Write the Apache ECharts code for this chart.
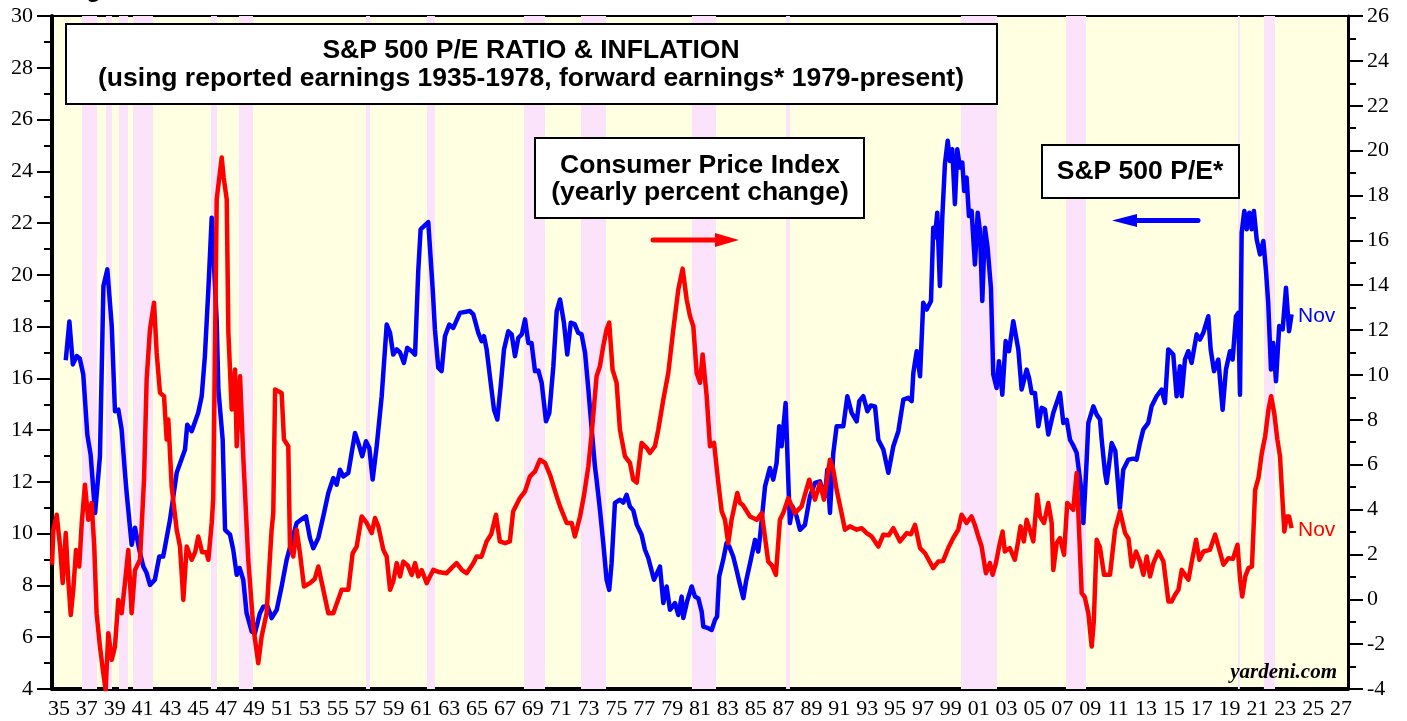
<!DOCTYPE html>
<html>
<head>
<meta charset="utf-8">
<title>S&amp;P 500 P/E Ratio &amp; Inflation</title>
<script src="https://cdn.jsdelivr.net/npm/echarts@6/dist/echarts.min.js"></script>
<style>
    html, body { margin: 0; padding: 0; background: #fff; }
    #chart { width: 1407px; height: 721px; }
</style>
</head>
<body>
<div id="chart"></div>
<script>
    // S&P 500 P/E (left axis), [year, value]
    const peData = [
        [1935.99,16.7],[1936.25,18.2],[1936.5,16.54],[1936.78,16.86],[1937.0,16.77],[1937.25,16.15],
        [1937.54,13.83],[1937.78,13.05],[1938.1,10.8],[1938.45,12.99],[1938.7,19.57],[1938.98,20.21],
        [1939.3,18.02],[1939.53,14.73],[1939.77,14.79],[1940.01,14.02],[1940.25,12.35],[1940.37,11.58],
        [1940.73,9.57],[1940.97,10.23],[1941.33,9.26],[1941.57,8.73],[1941.81,8.48],[1942.05,8.02],
        [1942.4,8.22],[1942.72,9.12],[1943.0,9.12],[1943.49,10.54],[1943.97,12.35],[1944.57,13.25],
        [1944.73,14.21],[1945.05,13.96],[1945.52,14.67],[1945.77,15.31],[1946.0,16.86],[1946.25,19.44],
        [1946.49,22.21],[1946.85,18.2],[1946.97,15.57],[1947.28,13.63],[1947.45,10.15],[1947.81,9.96],
        [1948.04,9.38],[1948.29,8.41],[1948.5,8.67],[1948.76,8.22],[1949.0,6.93],[1949.37,6.22],
        [1949.6,6.15],[1949.96,6.93],[1950.2,7.18],[1950.5,7.2],[1950.68,6.94],[1950.8,6.74],
        [1951.17,7.06],[1951.52,7.96],[1951.88,8.99],[1952.24,9.7],[1952.6,10.41],[1952.96,10.56],
        [1953.27,10.67],[1953.56,9.83],[1953.8,9.44],[1954.16,9.83],[1954.52,10.67],[1954.88,11.57],
        [1955.24,12.15],[1955.48,11.89],[1955.72,12.47],[1955.96,12.21],[1956.32,12.35],[1956.56,13.12],
        [1956.8,13.89],[1957.04,13.5],[1957.32,12.99],[1957.59,13.57],[1957.83,13.31],[1958.07,12.09],
        [1958.36,13.38],[1958.72,15.31],[1959.08,18.08],[1959.32,17.76],[1959.55,16.92],[1959.8,17.12],
        [1960.04,17.0],[1960.32,16.6],[1960.56,17.18],[1960.88,17.05],[1961.12,16.92],[1961.35,20.15],
        [1961.52,21.76],[1962.07,22.04],[1962.39,19.44],[1962.55,17.89],[1962.79,16.41],[1963.03,16.28],
        [1963.27,17.63],[1963.58,18.08],[1963.87,17.95],[1964.35,18.53],[1965.07,18.6],[1965.31,18.47],
        [1965.67,17.76],[1965.91,17.44],[1966.08,17.63],[1966.27,17.12],[1966.56,15.83],[1966.8,14.79],
        [1967.04,14.41],[1967.28,15.7],[1967.52,17.12],[1967.83,17.82],[1968.07,17.7],[1968.31,16.86],
        [1968.55,17.57],[1968.8,17.7],[1969.03,18.28],[1969.27,17.37],[1969.5,17.37],[1969.75,16.28],
        [1969.99,16.3],[1970.23,15.83],[1970.54,14.34],[1970.78,14.67],[1971.07,16.47],[1971.31,18.6],
        [1971.55,19.05],[1971.83,18.15],[1972.07,16.92],[1972.32,18.15],[1972.6,18.1],[1972.86,17.76],
        [1973.1,17.7],[1973.35,16.99],[1973.59,15.57],[1973.83,14.02],[1974.06,12.6],[1974.18,12.09],
        [1974.42,10.93],[1974.66,9.64],[1974.9,8.22],[1975.09,7.83],[1975.26,8.86],[1975.5,11.19],
        [1975.86,11.31],[1976.1,11.2],[1976.34,11.5],[1976.58,11.05],[1976.82,10.9],[1977.07,10.35],
        [1977.42,9.96],[1977.66,9.38],[1977.9,9.06],[1978.31,8.22],[1978.74,8.73],[1978.98,7.32],
        [1979.22,7.96],[1979.46,7.06],[1979.82,7.32],[1980.06,6.86],[1980.3,7.57],[1980.42,6.74],
        [1980.7,7.4],[1981.02,7.96],[1981.26,7.57],[1981.5,7.5],[1981.74,6.99],[1981.86,6.41],
        [1982.21,6.35],[1982.46,6.28],[1982.7,6.67],[1982.85,6.8],[1983.0,8.35],[1983.29,8.99],
        [1983.53,9.64],[1983.72,9.51],[1984.01,9.12],[1984.25,8.6],[1984.5,8.02],[1984.74,7.51],
        [1984.93,8.15],[1985.22,8.86],[1985.58,9.76],[1985.81,9.31],[1985.94,9.89],[1986.3,11.83],
        [1986.65,12.54],[1986.89,12.09],[1987.13,12.73],[1987.32,14.15],[1987.49,13.38],[1987.78,15.05],
        [1987.97,12.09],[1988.09,10.41],[1988.28,11.05],[1988.57,10.67],[1988.81,10.15],[1989.17,10.34],
        [1989.53,11.44],[1989.89,11.96],[1990.25,12.02],[1990.61,11.44],[1990.78,12.47],[1990.97,10.8],
        [1991.21,13.12],[1991.45,14.15],[1991.93,14.15],[1992.22,15.31],[1992.53,14.67],[1992.89,14.34],
        [1993.08,15.12],[1993.37,15.31],[1993.66,14.73],[1993.9,14.95],[1994.21,14.92],[1994.45,13.63],
        [1994.81,13.25],[1995.17,12.35],[1995.53,13.38],[1995.89,13.96],[1996.25,15.18],[1996.6,15.25],
        [1996.85,15.12],[1996.97,16.21],[1997.21,17.05],[1997.45,16.08],[1997.68,18.92],[1997.93,18.66],
        [1998.24,18.99],[1998.4,21.82],[1998.52,21.44],[1998.69,22.4],[1998.88,19.57],[1999.05,22.21],
        [1999.24,24.27],[1999.44,25.18],[1999.6,24.4],[1999.77,24.85],[1999.96,22.73],[2000.13,24.85],
        [2000.32,24.15],[2000.49,24.34],[2000.63,23.24],[2000.8,23.76],[2000.97,22.27],[2001.16,22.47],
        [2001.4,20.4],[2001.6,22.4],[2001.76,21.69],[2001.93,18.99],[2002.12,21.82],[2002.31,21.05],
        [2002.55,19.5],[2002.72,16.15],[2002.96,15.63],[2003.13,16.66],[2003.37,15.37],[2003.61,17.44],
        [2003.85,17.05],[2004.16,18.21],[2004.28,18.28],[2004.52,17.12],[2004.76,15.57],[2005.12,16.34],
        [2005.3,16.0],[2005.48,15.44],[2005.72,15.44],[2005.96,14.15],[2006.2,14.86],[2006.44,14.8],
        [2006.68,13.83],[2007.04,14.67],[2007.52,15.44],[2007.76,14.28],[2008.0,14.4],[2008.24,13.63],
        [2008.48,13.4],[2008.72,13.12],[2008.96,12.09],[2009.08,11.57],[2009.2,10.41],[2009.32,11.6],
        [2009.44,12.86],[2009.56,14.28],[2009.92,14.92],[2010.16,14.6],[2010.4,14.41],[2010.52,13.63],
        [2010.76,12.35],[2010.88,11.96],[2011.24,13.5],[2011.5,13.2],[2011.83,11.0],[2012.07,12.47],
        [2012.43,12.86],[2012.8,12.9],[2013.03,12.86],[2013.27,13.5],[2013.51,14.02],[2013.87,14.28],
        [2014.11,14.92],[2014.47,15.31],[2014.83,15.57],[2015.07,15.05],[2015.31,17.12],[2015.67,16.92],
        [2015.91,15.31],[2016.15,16.47],[2016.27,15.31],[2016.51,16.73],[2016.75,17.05],[2016.99,16.6],
        [2017.35,17.7],[2017.59,17.5],[2017.83,17.76],[2018.19,18.4],[2018.36,17.12],[2018.6,16.28],
        [2018.91,16.73],[2019.22,14.79],[2019.46,16.34],[2019.75,17.05],[2019.94,16.73],[2020.18,18.4],
        [2020.35,18.53],[2020.47,15.37],[2020.59,21.63],[2020.78,22.47],[2020.95,21.76],[2021.14,22.4],
        [2021.31,21.76],[2021.47,22.47],[2021.67,21.37],[2021.91,20.79],[2022.15,21.31],[2022.34,20.15],
        [2022.5,18.92],[2022.7,16.34],[2022.86,17.37],[2023.06,15.89],[2023.29,18.02],[2023.54,17.89],
        [2023.78,19.5],[2024.0,17.82],[2024.18,18.47]
    ]

    // CPI yearly % change (right axis), [year, value]
    const cpiData = [
        [1935.0,1.54],[1935.1,3.1],[1935.34,3.77],[1935.58,2.35],[1935.77,0.72],[1935.99,2.95],
        [1936.17,0.87],[1936.35,-0.7],[1936.53,0.42],[1936.73,2.2],[1936.96,1.46],[1937.14,3.4],
        [1937.37,5.11],[1937.61,3.54],[1937.85,4.29],[1938.04,2.35],[1938.21,-0.62],[1938.45,-2.11],
        [1938.69,-3.3],[1938.86,-4.05],[1939.05,-1.51],[1939.3,-2.7],[1939.53,-2.11],[1939.77,-0.03],
        [1940.01,-0.62],[1940.25,0.72],[1940.49,2.2],[1940.73,-0.62],[1940.97,1.31],[1941.33,1.76],
        [1941.62,5.33],[1941.81,9.8],[1942.05,12.03],[1942.34,13.22],[1942.53,10.99],[1942.77,9.2],
        [1943.06,9.05],[1943.25,7.12],[1943.37,8.01],[1943.61,5.03],[1943.97,3.1],[1944.21,2.35],
        [1944.45,-0.03],[1944.69,2.35],[1944.9,2.0],[1945.05,1.76],[1945.3,2.1],[1945.52,2.8],
        [1945.8,2.1],[1946.1,2.1],[1946.25,1.76],[1946.49,3.4],[1946.6,4.5],[1946.85,17.83],
        [1947.21,19.69],[1947.35,18.8],[1947.57,17.83],[1947.69,11.88],[1947.93,8.46],[1948.17,10.24],
        [1948.29,6.82],[1948.53,9.94],[1948.76,6.37],[1949.12,1.76],[1949.48,-1.22],[1949.84,-2.85],
        [1950.08,-1.66],[1950.44,-0.62],[1950.8,3.1],[1950.92,3.84],[1951.05,9.35],[1951.52,9.2],
        [1951.69,7.12],[1952.0,6.82],[1952.12,2.35],[1952.36,1.91],[1952.6,3.1],[1952.84,2.05],
        [1953.13,0.57],[1953.56,0.72],[1953.9,0.9],[1954.16,1.46],[1954.52,0.42],[1954.88,-0.62],
        [1955.24,-0.62],[1955.84,0.42],[1956.32,0.42],[1956.63,2.05],[1956.92,2.35],[1957.28,3.69],
        [1957.64,3.4],[1958.0,2.95],[1958.24,3.62],[1958.48,3.25],[1958.84,2.2],[1959.08,1.91],
        [1959.32,0.42],[1959.55,0.79],[1959.8,1.61],[1960.04,1.02],[1960.28,1.68],[1960.6,1.5],
        [1960.88,1.09],[1961.12,1.61],[1961.35,1.02],[1961.6,1.3],[1961.96,0.72],[1962.43,1.31],
        [1962.9,1.2],[1963.39,1.16],[1963.75,1.4],[1964.11,1.61],[1964.5,1.3],[1964.83,1.16],
        [1965.31,1.61],[1965.55,1.91],[1965.9,1.9],[1966.27,2.58],[1966.6,2.9],[1966.94,3.77],
        [1967.22,2.58],[1967.6,2.5],[1967.94,2.58],[1968.18,3.92],[1968.66,4.51],[1969.03,4.81],
        [1969.39,5.48],[1969.75,5.7],[1970.11,6.22],[1970.47,6.08],[1970.83,5.55],[1971.31,4.59],
        [1971.55,4.14],[1972.03,3.4],[1972.39,3.4],[1972.62,2.8],[1972.99,3.69],[1973.28,4.66],
        [1973.59,5.93],[1973.83,7.41],[1974.18,9.94],[1974.42,10.39],[1974.66,11.28],[1974.9,12.03],
        [1975.09,12.33],[1975.33,10.24],[1975.62,9.65],[1975.86,7.56],[1976.22,6.37],[1976.58,6.08],
        [1976.82,5.33],[1977.07,5.2],[1977.42,6.97],[1977.78,6.75],[1978.02,6.52],[1978.38,6.82],
        [1978.62,7.56],[1978.98,8.9],[1979.34,10.09],[1979.7,12.03],[1980.06,13.81],[1980.37,14.74],
        [1980.66,13.37],[1980.9,12.62],[1981.14,12.17],[1981.38,10.09],[1981.62,9.65],[1981.81,10.91],
        [1982.1,9.05],[1982.34,6.82],[1982.63,6.97],[1982.94,5.18],[1983.18,3.92],[1983.42,3.54],
        [1983.65,2.5],[1983.89,3.54],[1984.3,4.74],[1984.5,4.29],[1984.7,4.2],[1985.22,3.69],
        [1985.7,3.54],[1986.06,3.84],[1986.17,3.84],[1986.53,1.68],[1986.8,1.5],[1987.08,1.09],
        [1987.37,3.54],[1987.61,3.84],[1987.97,4.51],[1988.45,3.84],[1988.93,4.14],[1989.48,5.33],
        [1989.89,4.44],[1990.25,5.18],[1990.54,4.44],[1990.97,6.22],[1991.2,5.8],[1991.45,4.88],
        [1991.75,4.0],[1992.05,3.1],[1992.41,3.25],[1992.9,3.1],
        [1993.25,3.17],[1993.61,2.95],[1993.97,2.8],[1994.45,2.35],[1994.81,2.88],[1995.2,2.85],
        [1995.53,3.17],[1996.01,2.58],[1996.49,2.95],[1996.8,2.9],[1997.09,3.32],[1997.45,2.28],
        [1997.81,2.05],[1998.4,1.39],[1998.76,1.68],[1999.1,1.7],[1999.48,2.28],[1999.84,2.73],
        [2000.2,3.1],[2000.44,3.77],[2000.8,3.4],[2001.16,3.69],[2001.4,3.3],[2001.64,2.8],
        [2001.88,2.35],[2002.19,1.16],[2002.48,1.61],[2002.67,1.09],[2002.91,1.61],[2003.19,2.5],
        [2003.39,3.02],[2003.55,2.13],[2003.91,2.28],[2004.27,1.76],[2004.51,2.58],[2004.68,3.25],
        [2004.92,2.58],[2005.12,3.54],[2005.35,3.1],[2005.6,2.58],[2005.88,4.66],[2006.08,3.69],
        [2006.37,3.4],[2006.68,4.29],[2006.92,3.4],[2007.04,1.31],[2007.28,2.5],[2007.52,2.73],
        [2007.81,1.98],[2008.04,4.29],[2008.47,3.99],[2008.72,5.63],[2009.08,0.27],[2009.3,0.1],
        [2009.56,-0.62],[2009.8,-2.11],[2009.95,-1.0],[2010.16,2.65],[2010.4,2.3],[2010.69,1.09],
        [2011.12,1.09],[2011.48,3.1],[2011.84,3.92],[2012.2,2.95],[2012.45,2.7],[2012.68,1.46],
        [2012.99,2.13],[2013.28,1.68],[2013.52,1.09],[2013.76,1.91],[2014.0,1.02],[2014.24,1.61],
        [2014.6,2.13],[2014.96,1.68],[2015.32,-0.1],[2015.55,-0.1],[2015.8,0.2],[2016.04,0.42],
        [2016.28,1.31],[2016.5,1.1],[2016.76,0.87],[2017.0,1.68],[2017.31,2.65],[2017.55,1.76],
        [2017.84,2.13],[2018.3,2.2],[2018.68,2.88],[2018.92,2.35],[2019.28,1.54],[2019.64,1.83],
        [2019.96,1.8],[2020.29,2.43],[2020.48,0.87],[2020.63,0.12],[2020.85,1.02],[2021.08,1.39],
        [2021.33,1.46],[2021.56,4.88],[2021.8,5.41],[2022.04,6.52],[2022.28,7.26],[2022.52,8.46],
        [2022.71,9.05],[2022.93,8.31],[2023.16,7.12],[2023.35,6.37],[2023.47,5.03],[2023.66,3.02],
        [2023.83,3.69],[2024.0,3.69],[2024.18,3.17]
    ]

    // shaded periods, [start, end]
    const shadedPeriods = [
        [1937.16,1938.24],[1938.88,1939.32],[1939.82,1940.47],[1940.83,1942.27],[1946.44,1946.87],
        [1948.45,1949.46],[1957.59,1957.88],[1961.98,1962.55],[1968.96,1970.47],[1973.06,1974.86],
        [1981.04,1982.77],[1987.81,1988.09],[2000.4,2002.99],[2007.95,2009.39],[2020.32,2020.46],
        [2022.19,2022.99]
    ]

    const yearLabels = [
        '35','36','37','38','39','40','41','42','43','44','45','46','47','48','49',
        '50','51','52','53','54','55','56','57','58','59','60','61','62','63','64',
        '65','66','67','68','69','70','71','72','73','74','75','76','77','78','79',
        '80','81','82','83','84','85','86','87','88','89','90','91','92','93','94',
        '95','96','97','98','99','00','01','02','03','04','05','06','07','08','09',
        '10','11','12','13','14','15','16','17','18','19','20','21','22','23','24',
        '25','26','27'
    ]

    const SANS = 'Liberation Sans'
    const SERIF = 'Liberation Serif'
    const BOX_FONT = 'bold 26.5px ' + SANS
    const tickLabel = { color: '#000', fontFamily: SERIF, fontSize: 22 }

    const chart = echarts.init(document.getElementById('chart'))
    chart.setOption({
        animation: false,
        grid: {
            left: 52, right: 59, top: 16, bottom: 32,
            show: true, backgroundColor: '#FFFFE1', borderColor: '#000', borderWidth: 2
        },
        xAxis: [
            {
                type: 'category',
                data: yearLabels,
                position: 'bottom',
                boundaryGap: true,
                axisLine: { onZero: false, lineStyle: { color: '#000', width: 4 } },
                axisTick: { interval: 0, length: 7, lineStyle: { color: '#000', width: 2 } },
                axisLabel: Object.assign({ interval: 1, margin: 9 }, tickLabel),
                splitLine: { show: false }
            },
            {
                // hidden value axis that places the data
                type: 'value', min: 1935, max: 2028.24, show: false
            }
        ],
        yAxis: [
            {
                type: 'value', position: 'left', min: 4, max: 30, interval: 2,
                axisLine: { show: true, lineStyle: { color: '#000', width: 4 } },
                axisTick: { show: true, length: 15, lineStyle: { color: '#000', width: 2 } },
                minorTick: { show: true, splitNumber: 2, length: 8, lineStyle: { color: '#000', width: 2 } },
                axisLabel: Object.assign({ margin: 19 }, tickLabel),
                splitLine: { show: false }
            },
            {
                type: 'value', position: 'right', min: -4, max: 26, interval: 2,
                axisLine: { show: true, lineStyle: { color: '#000', width: 3 } },
                axisTick: { show: true, length: 15, lineStyle: { color: '#000', width: 2 } },
                minorTick: { show: true, splitNumber: 2, length: 8, lineStyle: { color: '#000', width: 2 } },
                axisLabel: Object.assign({ margin: 19 }, tickLabel),
                splitLine: { show: false }
            }
        ],
        series: [
            {
                type: 'line', xAxisIndex: 1, yAxisIndex: 0, data: [], z: 1, silent: true,
                markArea: {
                    silent: true,
                    itemStyle: { color: '#FCE3FC' },
                    data: shadedPeriods.map(p => [{ xAxis: p[0] }, { xAxis: p[1] }])
                }
            },
            {
                name: 'S&P 500 P/E', type: 'line', xAxisIndex: 1, yAxisIndex: 0,
                data: peData, symbol: 'none', z: 3,
                lineStyle: { color: '#0000FF', width: 4.5, join: 'round' }
            },
            {
                name: 'CPI', type: 'line', xAxisIndex: 1, yAxisIndex: 1,
                data: cpiData, symbol: 'none', z: 4,
                lineStyle: { color: '#FF0000', width: 4.5, join: 'round' }
            }
        ],
        graphic: [
            { type: 'text', z: 100, left: 65, top: -22,
              style: { text: 'Figure 7.', font: 'bold 24px ' + SANS, fill: '#000' } },

            { type: 'rect', z: 100, shape: { x: 66, y: 24, width: 931, height: 80 },
              style: { fill: '#fff', stroke: '#000', lineWidth: 2 } },
            { type: 'text', z: 101, x: 531, y: 51,
              style: { text: 'S&P 500 P/E RATIO & INFLATION', font: BOX_FONT,
                       fill: '#000', align: 'center', verticalAlign: 'middle' } },
            { type: 'text', z: 101, x: 531, y: 79,
              style: { text: '(using reported earnings 1935-1978, forward earnings* 1979-present)',
                       font: BOX_FONT, fill: '#000', align: 'center', verticalAlign: 'middle' } },

            { type: 'rect', z: 100, shape: { x: 535, y: 138, width: 329, height: 80 },
              style: { fill: '#fff', stroke: '#000', lineWidth: 2 } },
            { type: 'text', z: 101, x: 700, y: 166,
              style: { text: 'Consumer Price Index', font: BOX_FONT,
                       fill: '#000', align: 'center', verticalAlign: 'middle' } },
            { type: 'text', z: 101, x: 700, y: 193,
              style: { text: '(yearly percent change)', font: BOX_FONT,
                       fill: '#000', align: 'center', verticalAlign: 'middle' } },

            { type: 'rect', z: 100, shape: { x: 1042, y: 145, width: 197, height: 53 },
              style: { fill: '#fff', stroke: '#000', lineWidth: 2 } },
            { type: 'text', z: 101, x: 1140, y: 172,
              style: { text: 'S&P 500 P/E*', font: BOX_FONT,
                       fill: '#000', align: 'center', verticalAlign: 'middle' } },

            // arrows
            { type: 'line', z: 100, shape: { x1: 653, y1: 240, x2: 718, y2: 240 },
              style: { stroke: '#FF0000', lineWidth: 5, lineCap: 'round' } },
            { type: 'polygon', z: 100, shape: { points: [[715, 233], [739, 240], [715, 247]] },
              style: { fill: '#FF0000' } },
            { type: 'line', z: 100, shape: { x1: 1134, y1: 220.5, x2: 1198, y2: 220.5 },
              style: { stroke: '#0000FF', lineWidth: 5, lineCap: 'round' } },
            { type: 'polygon', z: 100, shape: { points: [[1137, 214], [1112, 220.5], [1137, 227]] },
              style: { fill: '#0000FF' } },

            { type: 'text', z: 101, x: 1298, y: 316,
              style: { text: 'Nov', font: '21px ' + SANS, fill: '#0000FF', verticalAlign: 'middle' } },
            { type: 'text', z: 101, x: 1298, y: 530,
              style: { text: 'Nov', font: '21px ' + SANS, fill: '#FF0000', verticalAlign: 'middle' } },
            { type: 'text', z: 101, x: 1337, y: 673,
              style: { text: 'yardeni.com', font: 'italic bold 21px ' + SERIF,
                       fill: '#000', align: 'right', verticalAlign: 'middle' } }
        ]
    })
</script>
</body>
</html>
